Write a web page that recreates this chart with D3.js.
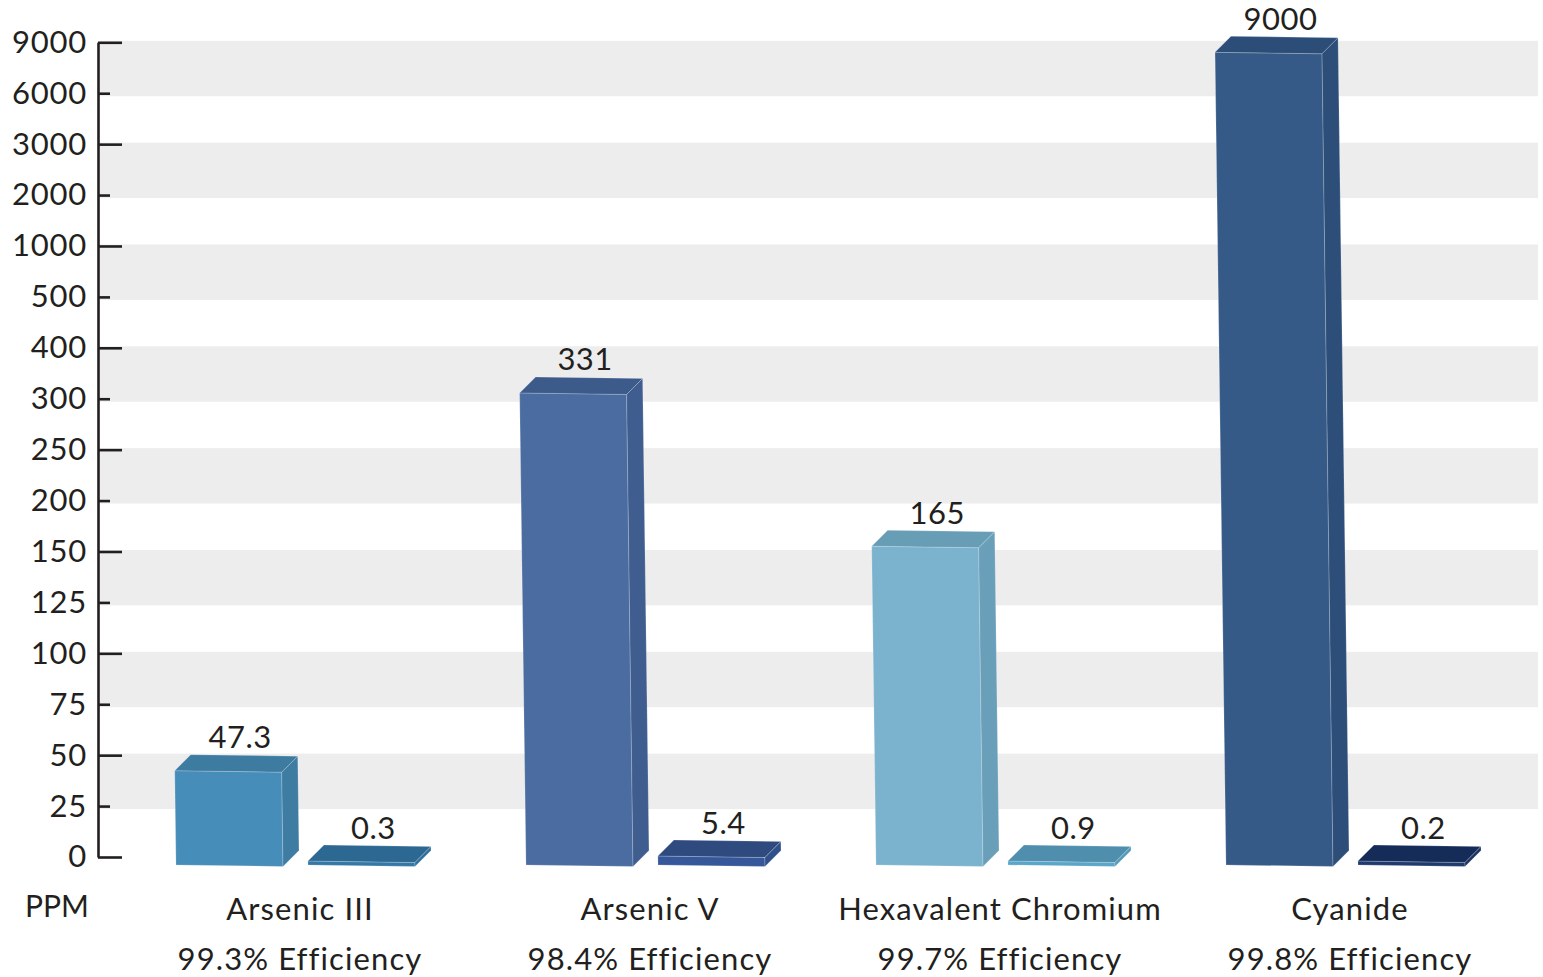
<!DOCTYPE html>
<html>
<head>
<meta charset="utf-8">
<script src="https://cdn.jsdelivr.net/npm/d3@7"></script>
<style>
  html, body { margin: 0; padding: 0; background: #fff; }
  svg { display: block; }
  text { font-family: Lato, "Open Sans", sans-serif; fill: #231f20; }
</style>
</head>
<body>
<svg id="chart" width="1543" height="977"></svg>
<script>
// Contaminant concentrations before and after treatment (PPM)
const categories = ["Arsenic III", "Arsenic V", "Hexavalent Chromium", "Cyanide"];
const efficiencyLabels = ["99.3% Efficiency", "98.4% Efficiency", "99.7% Efficiency", "99.8% Efficiency"];
const beforeValues = [47.3, 331, 165, 9000];
const afterValues = [0.3, 5.4, 0.9, 0.2];
const tickValues = [0, 25, 50, 75, 100, 125, 150, 200, 250, 300, 400, 500, 1000, 2000, 3000, 6000, 9000];
const unitLabel = "PPM";

// Face colours per bar: [front, top, side]
const beforeColors = [
  ["#478dba", "#3e7ba0", "#3e7ca2"],
  ["#4a6ca0", "#3c5b8a", "#3f5d8e"],
  ["#7bb3ce", "#689db6", "#6a9fba"],
  ["#355a87", "#2b4d78", "#2d4e79"]
];
const afterColors = [
  ["#3478a8", "#2c6891", "#2f6f9c"],
  ["#36579a", "#2e4a7f", "#30508a"],
  ["#5aa6c9", "#4f8fad", "#5299ba"],
  ["#1f3b6e", "#152c59", "#1a3363"]
];

const svg = d3.select("#chart");

const axisX = 98;
const yBottom = 857, yTop = 42.3;

// Evenly spaced ticks on a non-uniform value axis: piecewise linear scale
const tickPos = d3.scalePoint().domain(tickValues).range([yBottom, yTop]);
const y = d3.scaleLinear().domain(tickValues).range(tickValues.map(v => tickPos(v)));

// Category groups
const x = d3.scaleBand().domain(categories).range([176, 176 + 350 * categories.length]);

// Alternating background bands
const bandPairs = [];
for (let i = 1; i < tickValues.length - 1; i += 2) bandPairs.push([tickValues[i], tickValues[i + 1]]);
svg.append("g").selectAll("rect").data(bandPairs).join("rect")
  .attr("x", axisX + 2)
  .attr("width", 1538 - axisX - 2)
  .attr("y", d => y(d[1]) - 1.5)
  .attr("height", d => y(d[0]) - y(d[1]) + 4.5)
  .attr("fill", "#ededed");

// Y axis with alternating long / short ticks
const yAxis = d3.axisLeft(y).tickValues(tickValues).tickSizeInner(-24).tickSizeOuter(0)
  .tickPadding(11).tickFormat(d => String(d));
const axisG = svg.append("g").attr("transform", `translate(${axisX},0)`).call(yAxis);
axisG.select(".domain").attr("stroke", "#231f20").attr("stroke-width", 2.6);
axisG.selectAll(".tick line")
  .attr("stroke", "#231f20").attr("stroke-width", 2.6)
  .attr("x2", (d, i) => (i % 2 === 0 ? 24 : 12));
axisG.selectAll(".tick text")
  .attr("fill", "#231f20")
  .style("font-size", "31px")
  .style("letter-spacing", "0.8px")
  .style("font-family", "Lato, 'Open Sans', sans-serif");

// 3D bar geometry
const barW = 107, depth = 16, skew = 0.0135, tilt = 1.5, minThick = 4;
const frontBase = y(0) + 8;

function barGeom(left, value) {
  const yb = frontBase;
  const yt = Math.min(y(value) + 10, yb - minThick);
  const dx = skew * (yb - yt);
  const flt = [left - dx, yt], frt = [left + barW - dx, yt + tilt];
  const frb = [left + barW, yb + tilt], flb = [left, yb];
  const blt = [flt[0] + depth, flt[1] - depth], brt = [frt[0] + depth, frt[1] - depth];
  const brb = [frb[0] + depth, frb[1] - depth];
  return {
    front: [flt, frt, frb, flb],
    top: [flt, frt, brt, blt],
    side: [frt, brt, brb, frb],
    labelX: (blt[0] + brt[0]) / 2,
    labelY: blt[1] - 6.5
  };
}

const bars = [];
categories.forEach((c, i) => {
  bars.push({ value: beforeValues[i], colors: beforeColors[i], geom: barGeom(x(c), beforeValues[i]) });
  bars.push({ value: afterValues[i], colors: afterColors[i], geom: barGeom(x(c) + 132, afterValues[i]) });
});

const pts = p => p.map(q => q.join(",")).join(" ");
const barG = svg.append("g").selectAll("g").data(bars).join("g");
barG.append("polygon").attr("points", d => pts(d.geom.front)).attr("fill", d => d.colors[0])
  .attr("stroke", "#ffffff").attr("stroke-opacity", 0.25).attr("stroke-width", 0.8);
barG.append("polygon").attr("points", d => pts(d.geom.top)).attr("fill", d => d.colors[1])
  .attr("stroke", "#ffffff").attr("stroke-opacity", 0.25).attr("stroke-width", 0.8);
barG.append("polygon").attr("points", d => pts(d.geom.side)).attr("fill", d => d.colors[2])
  .attr("stroke", "#ffffff").attr("stroke-opacity", 0.25).attr("stroke-width", 0.8);

// Value labels
barG.append("text")
  .attr("x", d => d.geom.labelX - 4)
  .attr("y", d => d.geom.labelY)
  .attr("text-anchor", "middle")
  .style("font-size", "31px")
  .style("letter-spacing", "0.5px")
  .text(d => String(d.value));

// Category and efficiency labels
const labelG = svg.append("g").selectAll("g").data(categories).join("g");
labelG.append("text")
  .attr("x", d => x(d) + 124).attr("y", 920)
  .attr("text-anchor", "middle").style("font-size", "31px").style("letter-spacing", "1.1px")
  .text(d => d);
labelG.append("text")
  .attr("x", d => x(d) + 124).attr("y", 970)
  .attr("text-anchor", "middle").style("font-size", "31px").style("letter-spacing", "1.1px")
  .text((d, i) => efficiencyLabels[i]);

svg.append("text").attr("x", 25).attr("y", 917).style("font-size", "30px").text(unitLabel);
</script>
</body>
</html>
